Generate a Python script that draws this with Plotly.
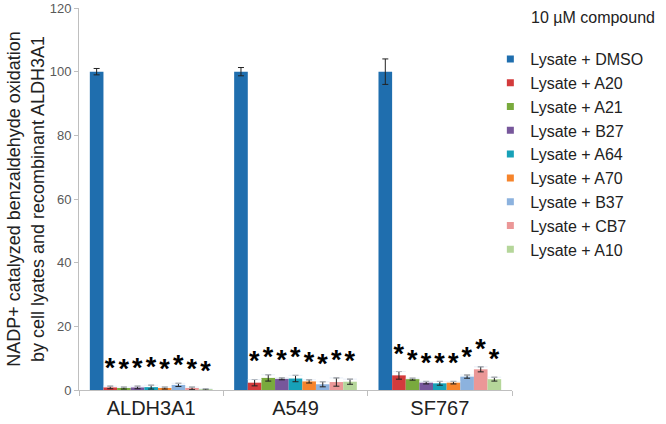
import plotly.graph_objects as go

cell_lines = ["ALDH3A1", "A549", "SF767"]
treatments = ["Lysate + DMSO", "Lysate + A20", "Lysate + A21", "Lysate + B27", "Lysate + A64",
              "Lysate + A70", "Lysate + B37", "Lysate + CB7", "Lysate + A10"]
colors = ["#1f6eae", "#d33b3c", "#79aa3d", "#77579b", "#17a1b8",
          "#f6842b", "#8cb2de", "#eb9797", "#b5d69a"]

# mean activity (% of DMSO) per treatment, ordered ALDH3A1, A549, SF767
means = {
    "Lysate + DMSO": [100, 100, 100],
    "Lysate + A20": [0.8, 2.3, 4.6],
    "Lysate + A21": [0.6, 3.8, 3.4],
    "Lysate + B27": [0.8, 3.5, 2.3],
    "Lysate + A64": [0.9, 3.6, 2.1],
    "Lysate + A70": [0.6, 2.7, 2.3],
    "Lysate + B37": [1.6, 1.8, 4.2],
    "Lysate + CB7": [0.5, 2.5, 6.5],
    "Lysate + A10": [0.2, 2.6, 3.4],
}
errors = {
    "Lysate + DMSO": [1.0, 1.3, 4.0],
    "Lysate + A20": [0.4, 1.0, 1.2],
    "Lysate + A21": [0.3, 1.0, 0.3],
    "Lysate + B27": [0.4, 0.3, 0.4],
    "Lysate + A64": [0.6, 1.0, 0.6],
    "Lysate + A70": [0.3, 0.5, 0.4],
    "Lysate + B37": [0.5, 0.8, 0.5],
    "Lysate + CB7": [0.4, 1.3, 0.8],
    "Lysate + A10": [0.2, 0.8, 0.6],
}
significant = ["Lysate + A20", "Lysate + A21", "Lysate + B27", "Lysate + A64",
               "Lysate + A70", "Lysate + B37", "Lysate + CB7", "Lysate + A10"]

fig = go.Figure()

for name, color in zip(treatments, colors):
    fig.add_trace(go.Bar(
        x=cell_lines, y=means[name], name=name, offsetgroup=name, showlegend=False,
        marker=dict(color=color, line=dict(width=0)),
        error_y=dict(type="data", array=errors[name], color="#222222", thickness=1, width=3),
    ))
    # small square legend key, like the original
    fig.add_trace(go.Scatter(
        x=[None], y=[None], mode="markers", name=name,
        marker=dict(symbol="square", size=7, color=color),
    ))

# asterisks sitting on top of the error bars
for name in significant:
    tops = [m + e for m, e in zip(means[name], errors[name])]
    fig.add_trace(go.Bar(
        x=cell_lines, y=[0.001] * 3, base=tops, offsetgroup=name,
        marker=dict(color="rgba(0,0,0,0)"), showlegend=False, hoverinfo="skip",
        text=["<b>*</b>"] * 3, textposition="outside", constraintext="none", cliponaxis=False,
        textfont=dict(size=27, color="black", family="Arial"),
    ))

fig.add_annotation(
    text="10 µM compound", xref="paper", yref="paper", x=1.04, y=0.974,
    xanchor="left", yanchor="middle", showarrow=False,
    font=dict(size=16, color="#222222"),
)

fig.update_layout(
    width=666, height=424,
    margin=dict(l=79, r=154, t=8, b=34),
    plot_bgcolor="white", paper_bgcolor="white",
    font=dict(family="Arial", color="#222222"),
    barmode="group", bargap=0.15, bargroupgap=0,
    showlegend=True,
    legend=dict(
        x=0.95, y=0.911, xanchor="left", yanchor="top", bgcolor="rgba(0,0,0,0)",
        font=dict(size=16, color="#222222"), itemwidth=30, tracegroupgap=0,
    ),
    xaxis=dict(
        automargin=False, showline=True, linecolor="#bfbfbf", linewidth=1,
        ticks="outside", tickson="boundaries", tickcolor="#bfbfbf", ticklen=5,
        tickfont=dict(size=20, color="#222222"), showgrid=False,
    ),
    yaxis=dict(
        automargin=False, range=[0, 120], dtick=20, showline=True, linecolor="#bfbfbf",
        linewidth=1, ticks="outside", tickcolor="#bfbfbf", ticklen=4, showgrid=False,
        zeroline=False, tickfont=dict(size=13, color="#595959"),
        title=dict(
            text="NADP+ catalyzed benzaldehyde oxidation<br>by cell lyates and recombinant ALDH3A1",
            font=dict(size=18, color="#222222"), standoff=0,
        ),
    ),
)

# drop the default 8px page margin so the figure fills the window exactly
fig.write_html(
    "out.html",
    config={"displayModeBar": False},
    post_script="document.body.style.margin = '0';",
)
